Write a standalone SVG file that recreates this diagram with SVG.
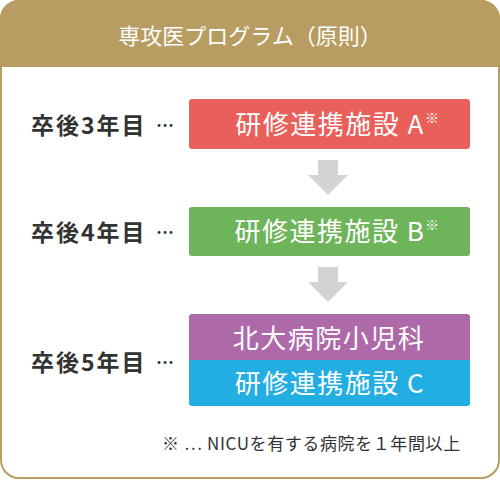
<svg xmlns="http://www.w3.org/2000/svg" width="500" height="480" viewBox="0 0 500 480">
<style>
.lbl{font-family:"Noto Sans CJK JP","Liberation Sans",sans-serif;font-weight:bold;font-size:23px;fill:#333;letter-spacing:2px}
.dots{font-family:"Noto Sans CJK JP","Liberation Sans",sans-serif;font-weight:bold;font-size:18px;fill:#333}
.box{font-family:"Noto Sans CJK JP","Liberation Sans",sans-serif;font-size:26px;fill:#fff;text-anchor:middle;letter-spacing:1.5px}
.sup{font-family:"Noto Sans CJK JP","Liberation Sans",sans-serif;font-size:14px;fill:#fff}
.note{font-family:"Noto Sans CJK JP","Liberation Sans",sans-serif;font-size:17px;fill:#333;letter-spacing:0.6px}
.arrow{fill:#D2D3D3}
</style>
<rect x="1" y="1" width="498" height="477" rx="18" fill="#fff" stroke="#B89D62" stroke-width="2"/>
<path d="M19 0 H481 A19 19 0 0 1 500 19 V67 H0 V19 A19 19 0 0 1 19 0 Z" fill="#B89D62"/>
<text x="250" y="44" text-anchor="middle" font-family="'Noto Sans CJK JP','Liberation Sans',sans-serif" font-size="22" fill="#fff">専攻医プログラム（原則）</text>
<g id="year3"><text class="lbl" x="31" y="134">卒後3年目</text><text class="dots" x="156" y="132">…</text></g>
<g id="year4"><text class="lbl" x="31" y="241">卒後4年目</text><text class="dots" x="156" y="239">…</text></g>
<g id="year5"><text class="lbl" x="31" y="371">卒後5年目</text><text class="dots" x="156" y="369">…</text></g>
<g id="nodeA">
<rect x="189" y="99" width="281" height="50" rx="3" fill="#E9605A"/>
<text class="box" x="330" y="134">研修連携施設 A</text>
<text class="sup" x="425" y="123">※</text>
</g>
<g id="nodeB">
<rect x="189" y="207" width="281" height="49" rx="3" fill="#6DB45A"/>
<text class="box" x="330" y="241">研修連携施設 B</text>
<text class="sup" x="425" y="230">※</text>
</g>
<g id="nodeC">
<path d="M192 314 H467 A3 3 0 0 1 470 317 V360 H189 V317 A3 3 0 0 1 192 314 Z" fill="#AE6AA8"/>
<text class="box" x="329" y="348">北大病院小児科</text>
<path d="M189 360 H470 V403 A3 3 0 0 1 467 406 H192 A3 3 0 0 1 189 403 Z" fill="#22ADE3"/>
<text class="box" x="330" y="393">研修連携施設 C</text>
</g>
<g id="connectors">
<path class="arrow" d="M318 160 H338 V175 H348 L328 195 L308 175 H318 Z"/>
<path class="arrow" d="M318 267 H338 V282 H348 L328 302 L308 282 H318 Z"/>
</g>
<text class="note" x="162" y="450">※ … NICUを有する病院を１年間以上</text>
</svg>
